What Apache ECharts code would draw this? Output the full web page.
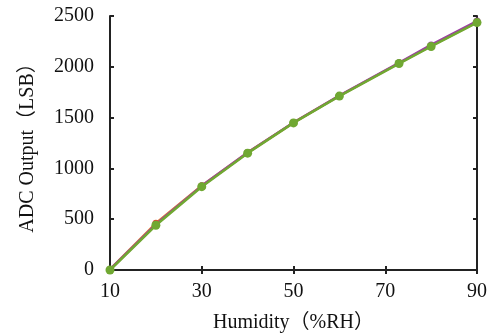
<!DOCTYPE html>
<html><head><meta charset="utf-8">
<script src="https://cdn.jsdelivr.net/npm/echarts@6/dist/echarts.min.js"></script>
<style>html,body{margin:0;padding:0;background:#fff}#c{width:492px;height:334px}</style>
</head><body><div id="c"></div>
<script>
const humidity = [10, 20, 30, 40, 50, 60, 73, 80, 90];
const seriesRed = [5, 460, 830, 1155, 1450, 1715, 2035, 2205, 2440];
const seriesPurple = [5, 450, 828, 1157, 1452, 1717, 2040, 2215, 2450];
const seriesGreen = [0, 440, 820, 1150, 1448, 1712, 2032, 2200, 2435];
const xTicks = [10, 30, 50, 70, 90];
const yTicks = [0, 500, 1000, 1500, 2000, 2500];

const font = "'Liberation Serif','Times New Roman','Noto Sans CJK SC',serif";
const axisColor = '#222';
function pairs(ys){ return humidity.map((x,i)=>[x, ys[i]]); }
const chart = echarts.init(document.getElementById('c'));
const xCommon = {type:'value', min:xTicks[0], max:xTicks[xTicks.length-1], interval:20,
  axisLine:{lineStyle:{color:axisColor,width:2}}, axisTick:{inside:true,length:4,lineStyle:{color:axisColor,width:2}},
  splitLine:{show:false}};
const yCommon = {type:'value', min:yTicks[0], max:yTicks[yTicks.length-1], interval:500,
  axisLine:{lineStyle:{color:axisColor,width:2}}, axisTick:{inside:true,length:4,lineStyle:{color:axisColor,width:2}},
  splitLine:{show:false}};
chart.setOption({
  animation:false,
  grid:{left:110,right:15,top:16,bottom:64,containLabel:false,outerBoundsMode:'none'},
  xAxis:[
    Object.assign({}, xCommon, {position:'bottom', name:'Humidity（%RH）', nameLocation:'middle', nameGap:43,
      nameTextStyle:{fontFamily:font,fontSize:20,color:'#111'},
      axisLabel:{fontFamily:font,fontSize:20,color:'#111',margin:12, formatter:v=>String(v)}}),
    Object.assign({}, xCommon, {position:'top', axisLabel:{show:false}})
  ],
  yAxis:[
    Object.assign({}, yCommon, {position:'left', name:'ADC Output（LSB）', nameLocation:'middle', nameGap:72,
      nameTextStyle:{fontFamily:font,fontSize:20,color:'#111'},
      axisLabel:{fontFamily:font,fontSize:20,color:'#111',margin:16, formatter:v=>String(v)}}),
    Object.assign({}, yCommon, {position:'right', axisLabel:{show:false}})
  ],
  series:[
    {type:'line', data:pairs(seriesRed), symbol:'circle', symbolSize:7, itemStyle:{color:'#e0502a'}, lineStyle:{color:'#e8862a',width:2.5}},
    {type:'line', data:pairs(seriesPurple), symbol:'circle', symbolSize:7, itemStyle:{color:'#9b3fa0'}, lineStyle:{color:'#9b3fa0',width:2.5}},
    {type:'line', data:pairs(seriesGreen), symbol:'circle', symbolSize:9, itemStyle:{color:'#70a832'}, lineStyle:{color:'#70a832',width:2.5}}
  ]
});
</script></body></html>
